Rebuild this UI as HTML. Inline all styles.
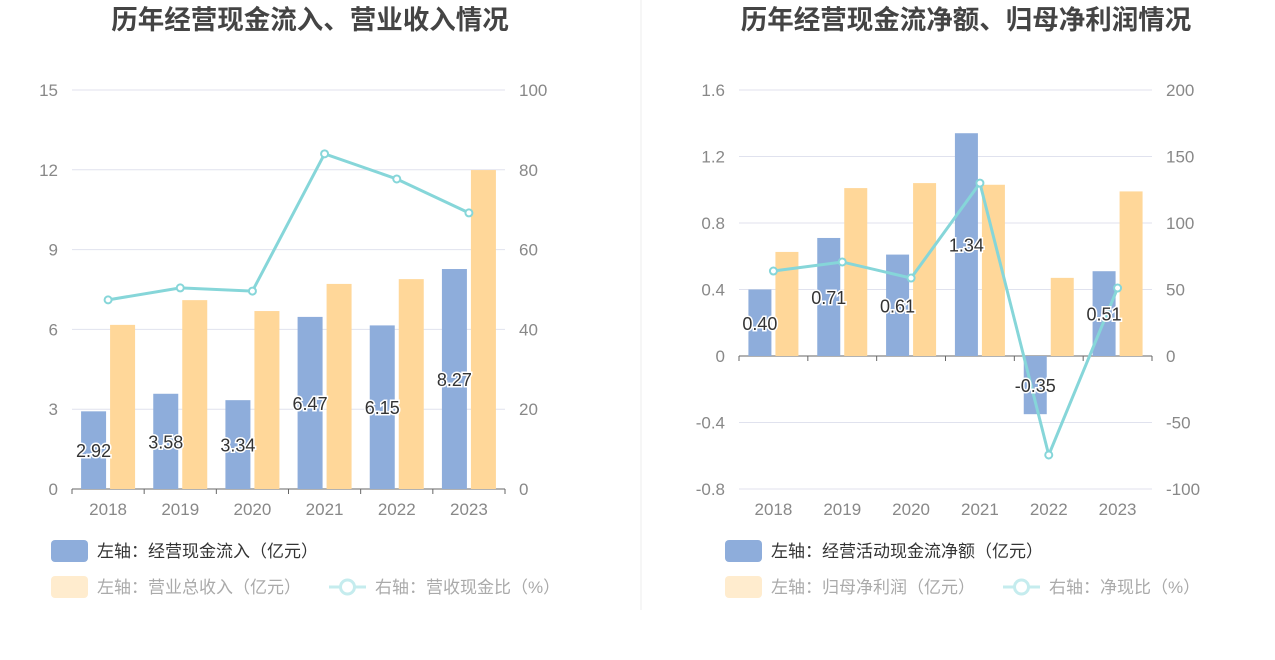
<!DOCTYPE html>
<html><head><meta charset="utf-8">
<style>
body{margin:0;background:#fff;width:1275px;height:655px;overflow:hidden;font-family:"Liberation Sans","Noto Sans CJK SC",sans-serif;}
svg text{font-family:"Liberation Sans","Noto Sans CJK SC",sans-serif;}
</style></head>
<body>
<svg id="s" width="1275" height="655" xmlns="http://www.w3.org/2000/svg">
<line x1="641" y1="0" x2="641" y2="610" stroke="#eeeeee"/>
</svg>
<script>
const years=['2018','2019','2020','2021','2022','2023'];
const c1Inflow=[2.92,3.58,3.34,6.47,6.15,8.27];
const c1Revenue=[6.17,7.1,6.69,7.71,7.89,11.99];
const c1Ratio=[47.4,50.4,49.6,84,77.7,69.2];
const c1LeftTicks=[0,3,6,9,12,15];
const c1RightTicks=[0,20,40,60,80,100];
const c2Net=[0.40,0.71,0.61,1.34,-0.35,0.51];
const c2Profit=[0.626,1.01,1.04,1.03,0.47,0.99];
const c2Ratio=[63.9,70.7,58.6,130,-74.4,51.1];
const c2LeftTicks=[-0.8,-0.4,0,0.4,0.8,1.2,1.6];
const c2RightTicks=[-100,-50,0,50,100,150,200];
const c2LeftLabels=['-0.8','-0.4','0','0.4','0.8','1.2','1.6'];

const svg=document.getElementById('s');
const NS='http://www.w3.org/2000/svg';
function mk(tag,attrs,parent){const e=document.createElementNS(NS,tag);for(const k in attrs)e.setAttribute(k,attrs[k]);(parent||svg).appendChild(e);return e;}
function txt(x,y,s,attrs){const e=mk('text',Object.assign({x:x,y:y},attrs));e.textContent=s;return e;}

function drawChart(o){
  const g=mk('g',{});
  
  
  const yL=v=>o.y0-(v-o.lmin)/(o.lmax-o.lmin)*(o.y0-o.y1);
  const yR=v=>o.y0-(v-o.rmin)/(o.rmax-o.rmin)*(o.y0-o.y1);
  const step=(o.x1-o.x0)/years.length;
  const xc=i=>o.x0+step*(i+0.5);
  const t=txt(o.tx,29,o.title,{'text-anchor':'middle','font-size':'26.5','font-weight':'bold',fill:'#444'});
  
  o.lt.forEach((v,i)=>{
    const y=yL(v);
    const l=mk('line',{x1:o.x0,x2:o.x1,y1:y,y2:y,stroke:'#e0e2ee'},g);
    
    const a=txt(o.x0-14,y+6,o.ll?o.ll[i]:String(v),{'text-anchor':'end','font-size':'17',fill:'#888'});
    
    const b=txt(o.x1+14,y+6,String(o.rt[i]),{'text-anchor':'start','font-size':'17',fill:'#888'});
    
  });
  const zy=yL(0);
  const ax=mk('line',{x1:o.x0,x2:o.x1,y1:zy,y2:zy,stroke:'#666'},g);
  
  years.forEach((yr,i)=>{
    const tk=mk('line',{x1:o.x0+step*(i+1),x2:o.x0+step*(i+1),y1:zy,y2:zy+5,stroke:'#666'},g);
    
    if(i==0){const t0=mk('line',{x1:o.x0,x2:o.x0,y1:zy,y2:zy+5,stroke:'#666'},g);}
    const xl=txt(xc(i),o.y0+26,yr,{'text-anchor':'middle','font-size':'17',fill:'#888'});
    
  });
  years.forEach((yr,i)=>{
    const v=o.a[i],ya=yL(v);
    const r=mk('rect',{x:xc(i)-o.bw-2,y:Math.min(ya,zy),width:o.bw,height:Math.abs(zy-ya),fill:'#8eaddb'},g);
    
    const vb=o.b[i],yb=yL(vb);
    const r2=mk('rect',{x:xc(i)+2,y:Math.min(yb,zy),width:o.bw,height:Math.abs(zy-yb),fill:'#ffd799'},g);
    
  });
  const pts=o.r.map((v,i)=>xc(i)+','+yR(v)).join(' ');
  const pl=mk('polyline',{points:pts,fill:'none',stroke:'#86d6d9','stroke-width':'3'},g);
  
  o.r.forEach((v,i)=>{
    const c=mk('circle',{cx:xc(i),cy:yR(v),r:3.5,fill:'#fff',stroke:'#86d6d9','stroke-width':'2'},g);
    
  });
  o.a.forEach((v,i)=>{
    const ym=(yL(v)+zy)/2;
    const lb=txt(xc(i)-o.bw/2-2,ym+7,v.toFixed(2),{'text-anchor':'middle','font-size':'18',fill:'#333',stroke:'#fff','stroke-width':'3','paint-order':'stroke'});
    
  });
  const lx=o.legX;
  const r1=mk('rect',{x:lx,y:540,width:37,height:22,rx:4,fill:'#8eaddb'},g);
  
  const t1=txt(lx+46,557,o.legA,{'font-size':'17',fill:'#333'});
  
  const r2=mk('rect',{x:lx,y:576,width:37,height:22,rx:4,fill:'#ffecce'},g);
  
  const t2=txt(lx+46,593,o.legB,{'font-size':'17',fill:'#aaa'});
  
  const l3=mk('line',{x1:o.legCX,x2:o.legCX+37,y1:587,y2:587,stroke:'#c5ecee','stroke-width':'3'},g);
  
  const c3=mk('circle',{cx:o.legCX+18.5,cy:587,r:7,fill:'#fff',stroke:'#c5ecee','stroke-width':'3'},g);
  
  const t3=txt(o.legCX+46,593,o.legC,{'font-size':'17',fill:'#aaa'});
  
}
drawChart({name:'left-chart',title:'历年经营现金流入、营业收入情况',tx:310,x0:72,x1:505,y0:489,y1:90,lmin:0,lmax:15,rmin:0,rmax:100,
  lt:c1LeftTicks,rt:c1RightTicks,a:c1Inflow,b:c1Revenue,r:c1Ratio,bw:25,aName:'inflow',bName:'revenue',
  legX:51,legA:'左轴：经营现金流入（亿元）',legB:'左轴：营业总收入（亿元）',legCX:329,legC:'右轴：营收现金比（%）'});
drawChart({name:'right-chart',title:'历年经营现金流净额、归母净利润情况',tx:966,x0:739,x1:1152,y0:489,y1:90,lmin:-0.8,lmax:1.6,rmin:-100,rmax:200,
  lt:c2LeftTicks,ll:c2LeftLabels,rt:c2RightTicks,a:c2Net,b:c2Profit,r:c2Ratio,bw:23,aName:'net-cash',bName:'net-profit',
  legX:725,legA:'左轴：经营活动现金流净额（亿元）',legB:'左轴：归母净利润（亿元）',legCX:1003,legC:'右轴：净现比（%）'});
</script>
</body></html>
